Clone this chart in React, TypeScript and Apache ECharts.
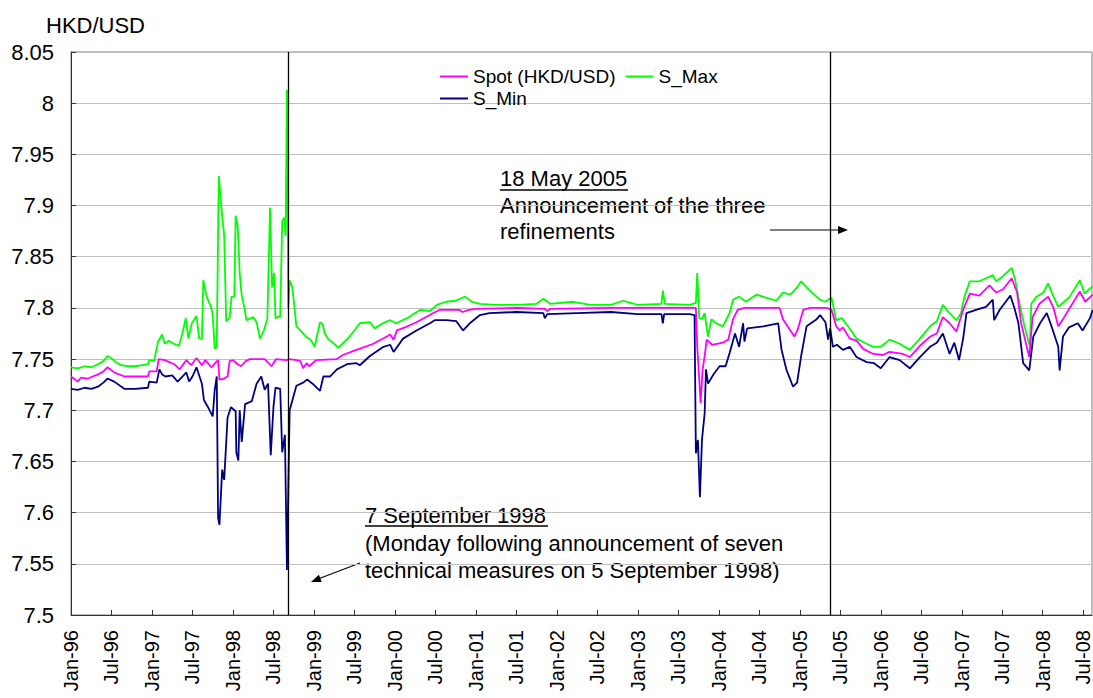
import React, { useEffect, useRef } from "react";
import * as echarts from "echarts";

// x values are months since January 1996 (0 = 1 Jan 1996)
const tickLabels = [
  "Jan-96", "Jul-96", "Jan-97", "Jul-97", "Jan-98", "Jul-98", "Jan-99", "Jul-99",
  "Jan-00", "Jul-00", "Jan-01", "Jul-01", "Jan-02", "Jul-02", "Jan-03", "Jul-03",
  "Jan-04", "Jul-04", "Jan-05", "Jul-05", "Jan-06", "Jul-06", "Jan-07", "Jul-07",
  "Jan-08", "Jul-08",
];

// 7 Sep 1998 and 18 May 2005
const eventMonths = [32.2, 112.55];

const sMax: [number, number][] = [
  [0,7.742],[1,7.741],[2,7.743],[3,7.742],[4,7.745],[4.8,7.748],[5.4,7.753],[6,7.751],[6.6,7.747],[7.5,7.744],
  [8.5,7.743],[9.5,7.743],[10.5,7.744],[11.4,7.745],[11.6,7.749],[12.3,7.748],[12.9,7.767],[13.5,7.774],[13.9,7.765],
  [14.5,7.768],[15.2,7.765],[16,7.763],[16.5,7.775],[17,7.79],[17.4,7.77],[17.9,7.785],[18.6,7.792],[19,7.77],[19.4,7.77],
  [19.6,7.827],[20.1,7.811],[20.8,7.8],[21,7.793],[21.3,7.76],[21.6,7.762],[21.9,7.929],[22.2,7.905],[22.4,7.89],
  [22.7,7.871],[23,7.787],[23.5,7.79],[23.8,7.811],[24.2,7.811],[24.4,7.89],[24.7,7.88],[25,7.834],[25.3,7.812],
  [25.7,7.8],[26,7.788],[27,7.791],[27.5,7.786],[28,7.77],[28.6,7.778],[29.1,7.79],[29.5,7.898],[29.8,7.82],[30.1,7.834],
  [30.3,7.79],[31,7.792],[31.3,7.885],[31.6,7.888],[31.8,7.87],[32,8.013],[32.2,7.8],[32.4,7.827],[32.8,7.82],[33.4,7.782],
  [34,7.778],[34.8,7.772],[35.5,7.769],[36.1,7.762],[36.9,7.786],[37.3,7.784],[37.6,7.775],[38.2,7.769],[39,7.765],
  [39.6,7.761],[41.3,7.772],[42.8,7.785],[44.3,7.786],[45,7.78],[46.2,7.785],[47.3,7.788],[48.2,7.785],[49.8,7.79],
  [51.7,7.798],[53.2,7.797],[54.2,7.803],[55.6,7.806],[57,7.807],[58.4,7.811],[59.4,7.806],[60.6,7.804],[63,7.803],
  [66,7.803],[69,7.804],[70,7.809],[71,7.804],[74.4,7.806],[77,7.803],[80,7.803],[81.8,7.807],[84,7.803],[87.5,7.804],
  [87.7,7.817],[88,7.804],[91.7,7.803],[92.6,7.805],[92.8,7.834],[93.1,7.79],[93.5,7.789],[93.9,7.795],[94.4,7.772],
  [94.9,7.789],[95.6,7.785],[96.6,7.782],[97.6,7.795],[98.1,7.808],[99,7.811],[100,7.806],[101.6,7.813],[103,7.81],
  [104.5,7.807],[105.5,7.815],[106.6,7.813],[107.6,7.82],[108.2,7.826],[109,7.82],[109.8,7.815],[111,7.808],[111.8,7.806],
  [112.4,7.809],[112.7,7.81],[113.4,7.788],[114.2,7.79],[114.7,7.786],[115.6,7.778],[116.4,7.77],[117.9,7.765],
  [118.9,7.762],[120,7.762],[121.3,7.769],[122.8,7.765],[124.3,7.759],[125.8,7.77],[127.3,7.782],[128.3,7.787],
  [129.2,7.803],[129.9,7.797],[131.2,7.788],[131.9,7.795],[132.4,7.811],[133.2,7.826],[134.6,7.826],[135.6,7.829],
  [136.6,7.832],[137.1,7.826],[138.1,7.831],[139.4,7.839],[139.9,7.828],[140.6,7.803],[141.3,7.782],[142.1,7.762],
  [142.3,7.804],[143.1,7.811],[144.1,7.815],[144.8,7.824],[145.6,7.811],[146.3,7.801],[147,7.805],[148,7.811],
  [149.5,7.827],[150.2,7.814],[151,7.819],[151.4,7.821],
];

const spot: [number, number][] = [
  [0,7.733],[1,7.728],[1.5,7.732],[2.5,7.731],[4,7.735],[4.8,7.738],[5.4,7.742],[6.4,7.737],[7.9,7.733],[9.5,7.733],
  [11.4,7.733],[11.6,7.738],[12.7,7.738],[13,7.75],[13.9,7.749],[15.3,7.745],[16.1,7.74],[17.1,7.749],[17.8,7.744],
  [18.6,7.751],[19.4,7.744],[19.9,7.749],[20.8,7.742],[21.5,7.747],[21.8,7.749],[22,7.73],[22.7,7.731],[23.2,7.733],
  [23.5,7.748],[24,7.749],[24.7,7.745],[25.2,7.743],[25.9,7.748],[26.5,7.75],[28.7,7.75],[29.7,7.743],[30.4,7.75],
  [31.9,7.749],[32.4,7.75],[33.4,7.749],[34,7.748],[34.4,7.741],[34.9,7.746],[35.3,7.743],[36.3,7.749],[39.4,7.75],
  [40.3,7.754],[42.3,7.759],[44.8,7.765],[46.8,7.772],[47.3,7.774],[47.8,7.769],[48.3,7.778],[49.5,7.781],[51.2,7.786],
  [53.7,7.795],[54.6,7.798],[57.6,7.798],[58,7.796],[59,7.798],[60.1,7.799],[66,7.8],[70.2,7.799],[70.6,7.797],[71,7.799],
  [80,7.8],[91.7,7.8],[92.6,7.8],[92.8,7.762],[93.1,7.73],[93.3,7.707],[93.6,7.74],[93.9,7.753],[94.2,7.769],[95,7.764],
  [96.6,7.766],[97.4,7.769],[98.1,7.789],[98.8,7.798],[99.8,7.8],[102,7.8],[105,7.8],[105.5,7.789],[106.5,7.779],
  [107.2,7.772],[107.7,7.779],[108.5,7.798],[109.5,7.8],[112,7.8],[112.7,7.798],[113.4,7.782],[113.9,7.778],[114.4,7.781],
  [115.4,7.77],[116.4,7.768],[117.4,7.76],[118.9,7.755],[120.3,7.754],[121.3,7.757],[123.3,7.755],[124.3,7.752],
  [125.8,7.763],[127.3,7.772],[128.3,7.775],[129.2,7.791],[130.2,7.785],[131.2,7.777],[132.2,7.798],[133.2,7.814],
  [134.6,7.812],[136.1,7.822],[137.1,7.815],[138.1,7.818],[139.4,7.829],[140.2,7.815],[140.8,7.785],[142,7.752],
  [142.5,7.791],[143.5,7.804],[144.8,7.811],[145.6,7.8],[146.3,7.782],[147.1,7.79],[148,7.8],[149.5,7.816],[150.3,7.806],
  [151.4,7.813],
];

const sMin: [number, number][] = [
  [0,7.721],[1,7.72],[2,7.722],[3,7.721],[4,7.723],[4.8,7.727],[5.4,7.731],[6.4,7.728],[7.9,7.721],[9.5,7.721],
  [11.4,7.722],[11.6,7.728],[12.7,7.727],[13.1,7.74],[13.5,7.735],[14,7.733],[15,7.734],[15.8,7.728],[17.1,7.737],
  [17.5,7.728],[18,7.733],[18.6,7.742],[19.4,7.726],[19.7,7.71],[20.3,7.703],[21,7.694],[21.3,7.72],[21.6,7.733],
  [21.8,7.595],[22,7.588],[22.4,7.642],[22.7,7.632],[23.2,7.693],[23.7,7.703],[24.4,7.699],[24.5,7.659],[24.8,7.651],
  [25,7.7],[25.3,7.669],[25.8,7.706],[26.8,7.709],[27.5,7.726],[28.2,7.733],[28.7,7.72],[29.2,7.726],[29.6,7.656],
  [30,7.703],[30.3,7.722],[31,7.721],[31.3,7.659],[31.7,7.676],[32,7.544],[32.2,7.62],[32.4,7.7],[33.4,7.724],
  [34.4,7.727],[35,7.73],[35.8,7.726],[36.9,7.719],[37.4,7.733],[38.4,7.733],[39.4,7.74],[40.9,7.745],[42.3,7.746],
  [42.8,7.744],[44.3,7.753],[46.3,7.762],[47.3,7.764],[47.8,7.757],[49.2,7.77],[51.2,7.778],[53.2,7.785],[53.9,7.788],
  [55.6,7.788],[57.1,7.787],[58.1,7.778],[59.1,7.785],[60.6,7.793],[62,7.795],[66,7.796],[70,7.795],[70.2,7.79],
  [70.6,7.794],[75,7.795],[80,7.796],[84,7.794],[87.5,7.794],[87.7,7.785],[87.9,7.794],[91.7,7.794],[92.4,7.793],
  [92.6,7.658],[92.9,7.671],[93.2,7.615],[93.5,7.671],[93.9,7.697],[94.1,7.74],[94.4,7.726],[95.2,7.735],[96.1,7.743],
  [97,7.743],[97.6,7.756],[98.4,7.775],[99,7.762],[99.6,7.785],[99.8,7.767],[100.2,7.78],[102.6,7.782],[104.8,7.785],
  [105.3,7.759],[106,7.74],[107,7.723],[107.6,7.727],[108.2,7.753],[109,7.782],[110.5,7.789],[111,7.793],[111.8,7.786],
  [112.2,7.769],[112.5,7.78],[112.9,7.762],[113.5,7.764],[114.4,7.759],[115.4,7.762],[116.4,7.752],[117.9,7.747],
  [119,7.746],[120,7.741],[121.3,7.752],[122.8,7.749],[124.3,7.741],[125.8,7.752],[127.3,7.762],[128.3,7.766],
  [129.2,7.775],[130.2,7.755],[130.9,7.766],[131.6,7.749],[132.2,7.77],[132.7,7.795],[134.1,7.798],[135.6,7.801],
  [136.6,7.808],[136.8,7.788],[137.6,7.798],[139.2,7.812],[139.8,7.8],[140.4,7.785],[141.1,7.746],[142,7.739],
  [142.6,7.772],[143.6,7.785],[144.6,7.795],[145.3,7.782],[146.3,7.762],[146.5,7.739],[147,7.772],[147.9,7.781],
  [149.2,7.785],[149.9,7.778],[151,7.79],[151.4,7.798],
];

const FONT = "'Liberation Sans', Arial, sans-serif";

export default function App() {
  const ref = useRef<HTMLDivElement>(null);

  useEffect(() => {
    document.body.style.margin = "0";
    if (!ref.current) return;
    const chart = echarts.init(ref.current, null, { renderer: "svg" });
    const txt = (x: number, y: number, text: string) => ({
      type: "text",
      x,
      y,
      style: { text, fill: "#000", font: `22px ${FONT}`, textVerticalAlign: "middle" },
    });
    const legendText = { fontSize: 19, color: "#000", fontFamily: FONT };
    chart.setOption({
      animation: false,
      backgroundColor: "#fff",
      textStyle: { fontFamily: FONT },
      grid: {
        left: 71, right: 1, top: 52, bottom: 83, containLabel: false, outerBoundsMode: "none",
        show: true, borderColor: "#808080", borderWidth: 1, backgroundColor: "#fff",
      },
      legend: [
        {
          data: ["Spot (HKD/USD)", "S_Max"],
          left: 435, top: 62, icon: "rect", itemWidth: 28, itemHeight: 2, itemGap: 10,
          textStyle: legendText,
        },
        {
          data: ["S_Min"],
          left: 435, top: 84, icon: "rect", itemWidth: 28, itemHeight: 2,
          textStyle: legendText,
        },
      ],
      xAxis: {
        type: "value", min: 0, max: 151.3, interval: 6,
        axisLine: { show: true, lineStyle: { color: "#333", width: 1 } },
        axisTick: { show: true, inside: true, length: 5, lineStyle: { color: "#333" } },
        splitLine: { show: false },
        axisLabel: {
          rotate: 90, margin: 15, fontSize: 20, color: "#000", fontFamily: FONT,
          showMaxLabel: false,
          formatter: (v: number) => {
            const i = Math.round(v / 6);
            return Math.abs(v - i * 6) < 1e-6 && tickLabels[i] ? tickLabels[i] : "";
          },
        },
      },
      yAxis: {
        type: "value", min: 7.5, max: 8.05, interval: 0.05,
        axisLine: { show: true, lineStyle: { color: "#333", width: 1 } },
        axisTick: { show: true, inside: true, length: 5, lineStyle: { color: "#333" } },
        splitLine: { show: true, lineStyle: { color: "#c0c0c0", width: 1 } },
        axisLabel: {
          margin: 17, fontSize: 22, color: "#000", fontFamily: FONT,
          formatter: (v: number) => String(parseFloat(v.toFixed(2))),
        },
      },
      series: [
        {
          name: "Spot (HKD/USD)", type: "line", data: spot, symbol: "none",
          lineStyle: { color: "#ff00ff", width: 1.8 }, itemStyle: { color: "#ff00ff" }, z: 3,
        },
        {
          name: "S_Max", type: "line", data: sMax, symbol: "none",
          lineStyle: { color: "#00ff00", width: 1.8 }, itemStyle: { color: "#00ff00" }, z: 2,
          markLine: {
            silent: true, symbol: "none", label: { show: false },
            lineStyle: { color: "#000", width: 1.3, type: "solid" },
            data: eventMonths.map((m) => ({ xAxis: m })),
          },
        },
        {
          name: "S_Min", type: "line", data: sMin, symbol: "none",
          lineStyle: { color: "#000080", width: 1.8 }, itemStyle: { color: "#000080" }, z: 4,
        },
      ],
      graphic: [
        txt(46, 25, "HKD/USD"),
        txt(500, 178, "18 May 2005"),
        { type: "line", shape: { x1: 500, y1: 190, x2: 628, y2: 190 }, style: { stroke: "#000", lineWidth: 1.3 } },
        txt(500, 205, "Announcement of the three"),
        txt(500, 231, "refinements"),
        { type: "line", shape: { x1: 770, y1: 230, x2: 840, y2: 230 }, style: { stroke: "#000", lineWidth: 1.2 } },
        { type: "polygon", shape: { points: [[848, 230], [838, 226], [838, 234]] }, style: { fill: "#000" } },
        txt(365, 515, "7 September 1998"),
        { type: "line", shape: { x1: 365, y1: 526, x2: 548, y2: 526 }, style: { stroke: "#000", lineWidth: 1.3 } },
        txt(365, 543, "(Monday following announcement of seven"),
        txt(365, 570, "technical measures on 5 September 1998)"),
        { type: "line", shape: { x1: 360, y1: 563, x2: 318, y2: 579 }, style: { stroke: "#000", lineWidth: 1.2 } },
        { type: "polygon", shape: { points: [[311, 582], [321.7, 582.1], [318.9, 574.7]] }, style: { fill: "#000" } },
      ],
    });
    return () => chart.dispose();
  }, []);

  return <div ref={ref} style={{ width: 1093, height: 698 }} />;
}
